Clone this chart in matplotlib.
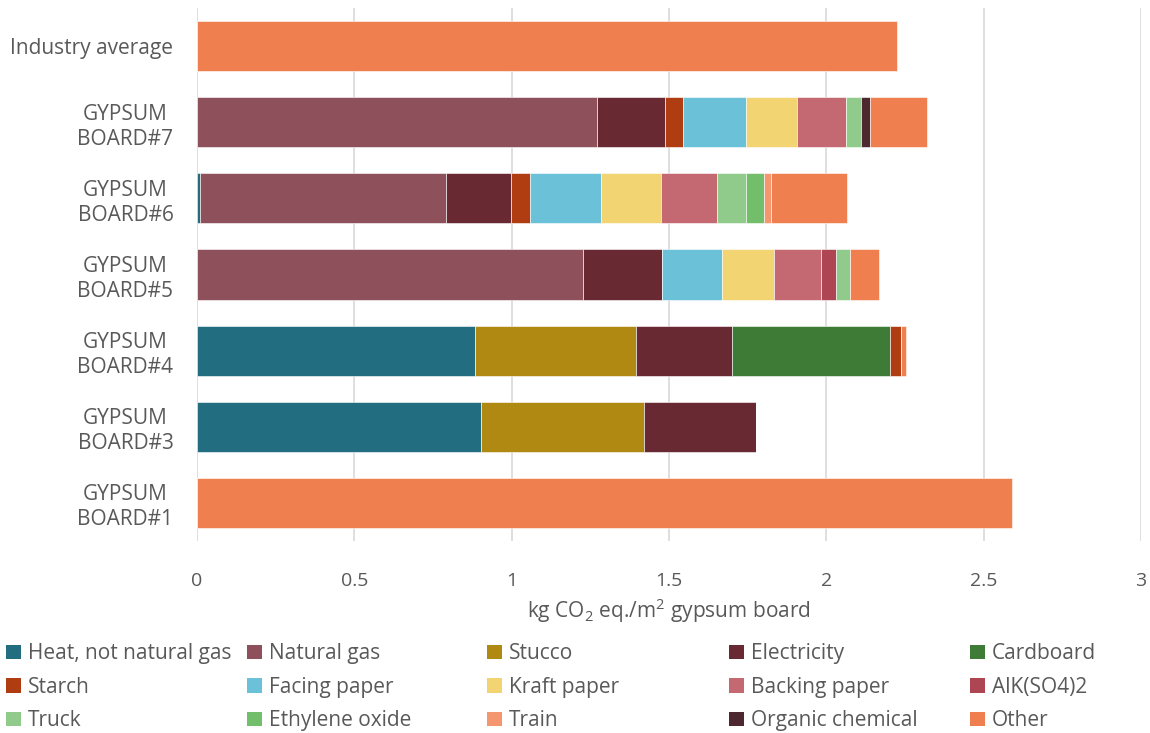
import matplotlib
matplotlib.use("Agg")
import numpy as np
import matplotlib.pyplot as plt
from matplotlib.patches import Patch

plt.rcParams["font.family"] = ["Open Sans", "DejaVu Sans"]
plt.rcParams["mathtext.fontset"] = "custom"
plt.rcParams["mathtext.rm"] = "Open Sans"

# Rows from top to bottom
boards = ["Industry average", "GYPSUM\nBOARD#7", "GYPSUM\nBOARD#6", "GYPSUM\nBOARD#5",
          "GYPSUM\nBOARD#4", "GYPSUM\nBOARD#3", "GYPSUM\nBOARD#1"]

# kg CO2 eq./m2 per contributor, one value per row
heat_other    = [0, 0,     0.008, 0,     0.885, 0.901, 0]
natural_gas   = [0, 1.272, 0.782, 1.227, 0,     0,     0]
stucco        = [0, 0,     0,     0,     0.511, 0.519, 0]
electricity   = [0, 0.215, 0.208, 0.252, 0.303, 0.357, 0]
cardboard     = [0, 0,     0,     0,     0.504, 0,     0]
starch        = [0, 0.057, 0.061, 0,     0.034, 0,     0]
facing_paper  = [0, 0.200, 0.225, 0.191, 0,     0,     0]
kraft_paper   = [0, 0.163, 0.190, 0.164, 0,     0,     0]
backing_paper = [0, 0.157, 0.179, 0.150, 0,     0,     0]
alk_so4       = [0, 0,     0,     0.048, 0,     0,     0]
truck         = [0, 0.045, 0.091, 0.044, 0,     0,     0]
ethylene_ox   = [0, 0,     0.058, 0,     0,     0,     0]
train         = [0, 0,     0.023, 0,     0,     0,     0]
organic_chem  = [0, 0.031, 0,     0,     0,     0,     0]
other         = [2.225, 0.181, 0.241, 0.091, 0.015, 0, 2.591]

components = [
    ("Heat, not natural gas", heat_other, "#226E80"),
    ("Natural gas", natural_gas, "#8E515C"),
    ("Stucco", stucco, "#B08912"),
    ("Electricity", electricity, "#692932"),
    ("Cardboard", cardboard, "#3E7B37"),
    ("Starch", starch, "#B03C12"),
    ("Facing paper", facing_paper, "#6AC1D8"),
    ("Kraft paper", kraft_paper, "#F2D472"),
    ("Backing paper", backing_paper, "#C46872"),
    ("AlK(SO4)2", alk_so4, "#AE4552"),
    ("Truck", truck, "#90CB8B"),
    ("Ethylene oxide", ethylene_ox, "#72BE6B"),
    ("Train", train, "#F4966F"),
    ("Organic chemical", organic_chem, "#4D2830"),
    ("Other", other, "#F07F50"),
]

TXT = "#595959"

fig = plt.figure(figsize=(11.5, 7.33), dpi=100)
ax = fig.add_axes([197 / 1150, 1 - 541 / 733, 944 / 1150, 533 / 733])

y = np.arange(len(boards))
left = np.zeros(len(boards))
for name, vals, color in components:
    vals = np.array(vals, dtype=float)
    ax.barh(y, vals, left=left, height=0.66, color=color, edgecolor="white",
            linewidth=0.4, zorder=3)
    left += vals

ax.set_xlim(0, 3)
ax.set_ylim(len(boards) - 0.5, -0.5)
ax.set_xticks([0, 0.5, 1, 1.5, 2, 2.5, 3])
ax.set_xticklabels(["0", "0.5", "1", "1.5", "2", "2.5", "3"])
ax.set_yticks(y)
ax.set_yticklabels(boards, multialignment="center", linespacing=1.25)
ax.tick_params(axis="both", length=0, labelsize=14, colors=TXT)
ax.tick_params(axis="y", labelsize=15, pad=17)
ax.tick_params(axis="x", pad=22)
ax.grid(axis="x", color="#D9D9D9", linewidth=1.2, zorder=0)
for s in ax.spines.values():
    s.set_visible(False)

ax.set_xlabel(r"kg CO$_\mathregular{2}$ eq./m$^\mathregular{2}$ gypsum board",
              fontsize=15, color=TXT, labelpad=5)

# Legend laid out as 5 evenly spaced columns, 3 rows
col_x = [0, 241, 481, 723, 964]
for c in range(5):
    items = components[c::5]
    handles = [Patch(facecolor=col, edgecolor="none") for _, _, col in items]
    labels = [n for n, _, _ in items]
    fig.legend(handles, labels, loc="upper left",
               bbox_to_anchor=(col_x[c] / 1150, 1 - 637 / 733),
               frameon=False, fontsize=15, labelcolor=TXT,
               handlelength=0.7, handleheight=0.7, handletextpad=0.35,
               labelspacing=0.6, borderaxespad=0, borderpad=0.3)

fig.savefig("out.png", dpi=100)
